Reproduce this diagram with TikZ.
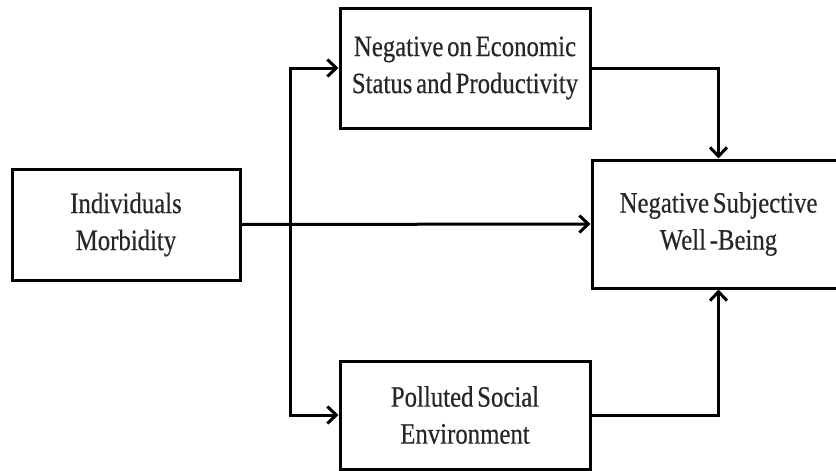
\documentclass[tikz,border=0pt]{standalone}
\usepackage{fontspec}
\setmainfont{Liberation Serif}[FakeStretch=0.84, WordSpace=0.6, FakeBold=0.4]
\usetikzlibrary{arrows.meta}
\begin{document}
\begin{tikzpicture}[x=1pt,y=-1pt,
  box/.style={draw=black, line width=3pt, rectangle, align=center,
    inner sep=0pt, font=\fontsize{29.5}{37}\selectfont, text=black!85},
  link/.style={draw=black, line width=3pt,
    -{Straight Barb[length=9pt,width=17pt,line width=3pt]}}]
  \useasboundingbox (0,0) rectangle (836,471);
  \fill[white] (0,0) rectangle (836,471);

  % boxes
  \node[box, minimum width=228pt, minimum height=111pt] (left) at (126,224.5)
    {Individuals\\Morbidity};
  \node[box, minimum width=250pt, minimum height=120pt] (top) at (465,68)
    {Negative on Economic\\Status and Productivity};
  \node[box, minimum width=253pt, minimum height=128pt] (right) at (718.5,224)
    {Negative Subjective\\Well -Being};
  \node[box, minimum width=250pt, minimum height=108pt] (bot) at (465,415)
    {Polluted Social\\Environment};

  % branching point on the main path
  \coordinate (j) at (290,224.5);

  % connectors
  \draw[link] (left.east) -- (right.west);
  \draw[link] (j) |- (top.west);
  \draw[link] (j) |- (bot.west);
  \draw[link] (top.east) -| (right.north);
  \draw[link] (bot.east) -| (right.south);
\end{tikzpicture}
\end{document}
